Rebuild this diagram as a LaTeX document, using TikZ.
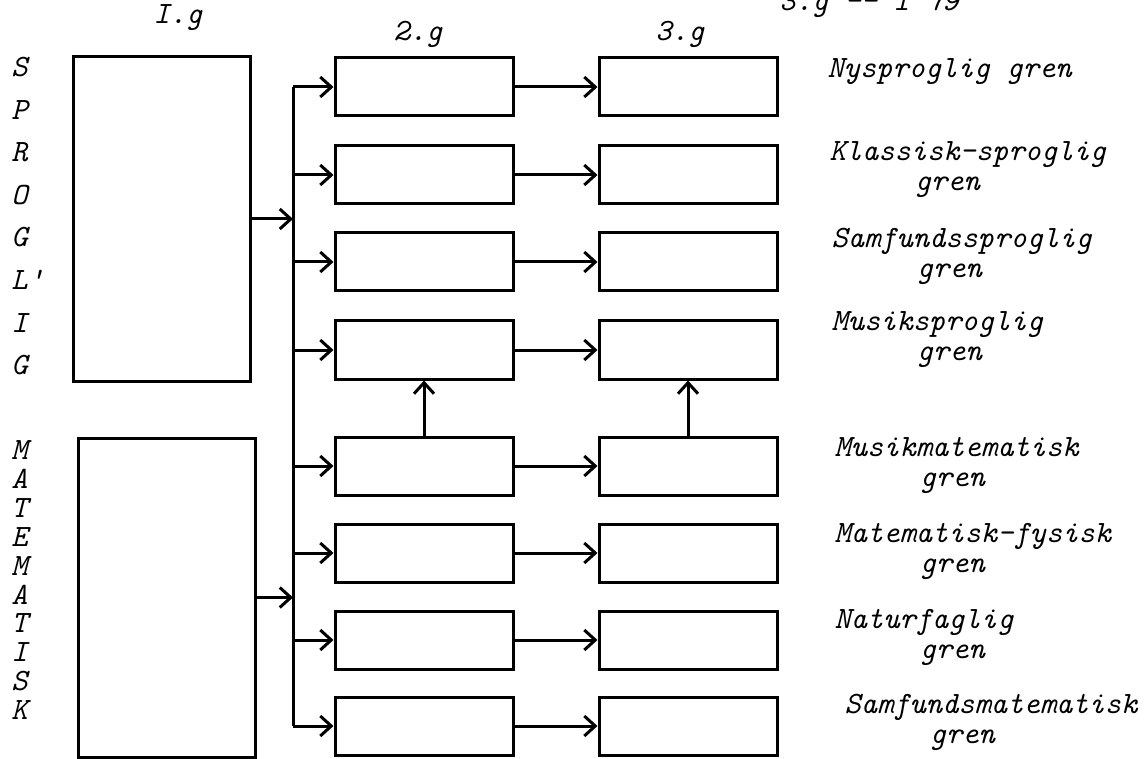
\documentclass[tikz,border=0pt]{standalone}
\usepackage{fontspec}
\usetikzlibrary{arrows.meta}
\begin{document}
\begin{tikzpicture}[x=1pt, y=-1pt, line width=3pt,
    box/.style={draw, rectangle, inner sep=0pt, minimum width=178pt, minimum height=58pt},
    bigbox/.style={draw, rectangle, inner sep=0pt, minimum width=177pt},
    txt/.style={font=\ttfamily\itshape\fontsize{31}{30}\selectfont, inner sep=0pt},
    link/.style={-{Straight Barb[length=11pt, width=20pt, line width=3pt]}}]
    \useasboundingbox (0,0) rectangle (1146,759);
    \clip (0,0) rectangle (1146,759);

    % --- Headings ---
    \node[txt] (h1) at (178,18) {I.g};
    \node[txt] (h2) at (418,34) {2.g};
    \node[txt] (h3) at (680,34) {3.g};
    \node[txt, anchor=west] (code) at (778,4) {3.g -- I 79};

    % --- 1.g: the two big boxes ---
    \node[bigbox, minimum height=324pt] (spr) at (161.5,219) {};
    \node[bigbox, minimum height=319pt] (mat) at (167,597.5) {};

    \foreach \l [count=\i] in {S,P,R,O,G,L',I,G}
        \node[txt, anchor=west] (s\i) at (10,{67+(\i-1)*42.6}) {\l};
    \foreach \l [count=\i] in {M,A,T,E,M,A,T,I,S,K}
        \node[txt, anchor=west] (m\i) at (10,{450+(\i-1)*28.9}) {\l};

    % --- trunk ---
    \coordinate (top) at (293,87); \coordinate (bot) at (293,726);
    \draw (top) -- (bot);
    \draw[link] (spr.east) -- (spr.east -| top);
    \draw[link] (mat.east) -- (mat.east -| top);

    % --- 2.g and 3.g boxes ---
    \foreach \y [count=\i] in {87,175,262,350,466,553,640,726} {
        \node[box] (a\i) at (424,\y) {};
        \node[box] (b\i) at (688,\y) {};
        \draw[link] (top |- a\i.west) -- (a\i.west);
        \draw[link] (a\i) -- (b\i);
    }
    \draw[link] (a5.north) -- (a4.south);
    \draw[link] (b5.north) -- (b4.south);

    % --- branch names ---
    \node[txt, anchor=west] (n1) at (826,72) {Nysproglig gren};
    \foreach \t/\y/\x [count=\i from 2] in {Klassisk-sproglig/170/828, Samfundssproglig/256/830,
        Musiksproglig/340/830, Musikmatematisk/465/833, Matematisk-fysisk/551/833,
        Naturfaglig/637/833, Samfundsmatematisk/722/843}
        \node[txt, anchor=west, align=left] (n\i) at (\x,\y) {\t\\\hspace*{2.75em}gren};
\end{tikzpicture}
\end{document}
